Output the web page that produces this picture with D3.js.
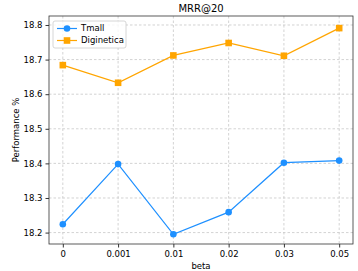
<!DOCTYPE html>
<html>
<head>
<meta charset="utf-8">
<script src="https://cdn.jsdelivr.net/npm/d3@7"></script>
<style>
  body { margin: 0; background: #fff; }
  text { font-family: "DejaVu Sans", sans-serif; }
</style>
</head>
<body>
<script>
let betas = ['0', '0.001', '0.01', '0.02', '0.03', '0.05']
let tmall = [18.224, 18.398, 18.195, 18.259, 18.402, 18.408]
let diginetica = [18.684, 18.633, 18.712, 18.748, 18.711, 18.791]
let yTicks = [18.2, 18.3, 18.4, 18.5, 18.6, 18.7, 18.8]

let width = 358, height = 271
let m = {left: 49, right: 5, top: 16, bottom: 27}

let x = d3.scaleLinear().domain([-0.25, betas.length - 0.75]).range([m.left, width - m.right])
let y = d3.scaleLinear().domain([18.167, 18.826]).range([height - m.bottom, m.top])

let svg = d3.select('body').append('svg').attr('width', width).attr('height', height)

// grid
svg.append('g').selectAll('line').data(d3.range(betas.length)).enter().append('line')
  .attr('x1', d => x(d)).attr('x2', d => x(d))
  .attr('y1', m.top).attr('y2', height - m.bottom)
  .attr('stroke', '#c8c8c8').attr('stroke-width', 0.8).attr('stroke-dasharray', '2.5,2')
svg.append('g').selectAll('line').data(yTicks).enter().append('line')
  .attr('x1', m.left).attr('x2', width - m.right)
  .attr('y1', d => y(d)).attr('y2', d => y(d))
  .attr('stroke', '#c8c8c8').attr('stroke-width', 0.8).attr('stroke-dasharray', '2.5,2')

// axes
let xAxis = svg.append('g').attr('transform', 'translate(0,' + (height - m.bottom) + ')')
  .call(d3.axisBottom(x).tickValues(d3.range(betas.length)).tickFormat(i => betas[i]).tickSize(3.5).tickPadding(3))
let yAxis = svg.append('g').attr('transform', 'translate(' + m.left + ',0)')
  .call(d3.axisLeft(y).tickValues(yTicks).tickFormat(d3.format('.1f')).tickSize(3.5).tickPadding(3))
svg.selectAll('.domain').remove()
svg.selectAll('.tick text').attr('font-size', 8.5).attr('fill', '#000').attr('font-family', 'DejaVu Sans')
svg.selectAll('.tick line').attr('stroke', '#000').attr('stroke-width', 0.8)

svg.append('rect').attr('x', m.left).attr('y', m.top)
  .attr('width', width - m.left - m.right).attr('height', height - m.top - m.bottom)
  .attr('fill', 'none').attr('stroke', '#333').attr('stroke-width', 0.8)

// lines
let line = d3.line().x((d, i) => x(i)).y(d => y(d))
svg.append('path').datum(tmall).attr('d', line).attr('fill', 'none').attr('stroke', '#1e90ff').attr('stroke-width', 1.2)
svg.append('path').datum(diginetica).attr('d', line).attr('fill', 'none').attr('stroke', '#ffa500').attr('stroke-width', 1.2)

svg.append('g').selectAll('circle').data(tmall).enter().append('circle')
  .attr('cx', (d, i) => x(i)).attr('cy', d => y(d)).attr('r', 3.3).attr('fill', '#1e90ff')
svg.append('g').selectAll('rect').data(diginetica).enter().append('rect')
  .attr('x', (d, i) => x(i) - 3.3).attr('y', d => y(d) - 3.3).attr('width', 6.6).attr('height', 6.6).attr('fill', '#ffa500')

// legend
let lg = svg.append('g').attr('transform', 'translate(53,21)')
lg.append('rect').attr('width', 73).attr('height', 27).attr('rx', 2)
  .attr('fill', '#fff').attr('fill-opacity', 0.8).attr('stroke', '#ccc').attr('stroke-width', 0.8)
let items = [{name: 'Tmall', color: '#1e90ff', shape: 'circle'}, {name: 'Diginetica', color: '#ffa500', shape: 'square'}]
items.forEach((it, i) => {
  let cy = 7.5 + i * 12
  lg.append('line').attr('x1', 4).attr('x2', 24).attr('y1', cy).attr('y2', cy).attr('stroke', it.color).attr('stroke-width', 1.2)
  if (it.shape == 'circle') lg.append('circle').attr('cx', 14).attr('cy', cy).attr('r', 3.3).attr('fill', it.color)
  else lg.append('rect').attr('x', 10.7).attr('y', cy - 3.3).attr('width', 6.6).attr('height', 6.6).attr('fill', it.color)
  lg.append('text').attr('x', 28).attr('y', cy).attr('dy', '0.35em').attr('font-size', 8.5).text(it.name)
})

// titles
svg.append('text').attr('x', (m.left + width - m.right) / 2).attr('y', 12).attr('text-anchor', 'middle')
  .attr('font-size', 10).text('MRR@20')
svg.append('text').attr('x', (m.left + width - m.right) / 2).attr('y', 268.5).attr('text-anchor', 'middle')
  .attr('font-size', 8.5).text('beta')
svg.append('text').attr('transform', 'translate(18.5,' + ((m.top + height - m.bottom) / 2) + ') rotate(-90)')
  .attr('text-anchor', 'middle').attr('font-size', 8.5).text('Performance %')
</script>
</body>
</html>
